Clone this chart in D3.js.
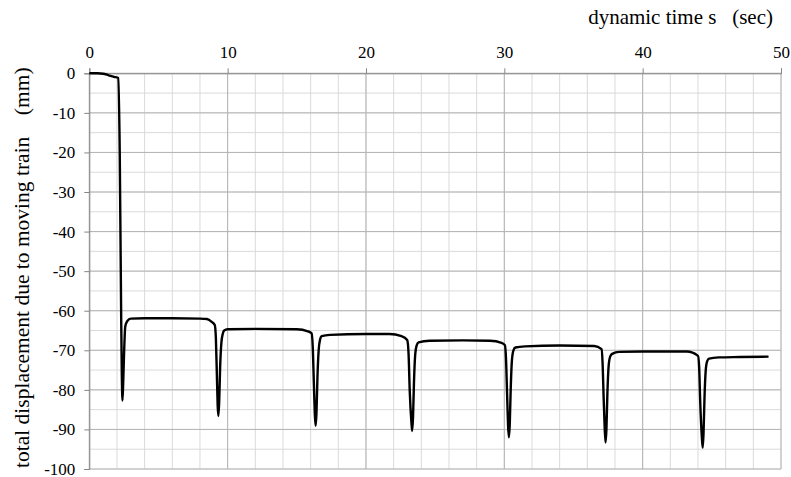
<!DOCTYPE html>
<html>
<head>
<meta charset="utf-8">
<script src="https://cdn.jsdelivr.net/npm/d3@7"></script>
<style>
  body { margin: 0; background: #fff; }
  svg { display: block; }
  svg text { font-family: "Liberation Serif", "Times New Roman", Tinos, "DejaVu Serif", serif; fill: #000; }
</style>
</head>
<body>
<div id="chart"></div>
<script>
// Data: time (sec) and total displacement (mm)
var time = [0, 0.6, 1.0, 1.4, 1.8, 2.1,
    2.2, 2.3, 2.35, 2.40, 2.46, 2.52, 2.6, 2.75, 3.0, 4, 6, 8, 8.5, 8.85, 9.07,
    9.15, 9.22, 9.28, 9.33, 9.39, 9.46, 9.55, 9.65, 9.75, 10.0, 12, 15.0, 15.8, 16.07,
    16.15, 16.23, 16.30, 16.36, 16.42, 16.49, 16.58, 16.68, 16.8, 17.4, 20, 21.7, 22.57, 22.98,
    23.08, 23.16, 23.28, 23.34, 23.40, 23.47, 23.56, 23.66, 23.8, 24.6, 27, 28.96, 29.8, 30.04,
    30.12, 30.20, 30.27, 30.33, 30.39, 30.46, 30.55, 30.66, 30.8, 31.5, 34, 36.5, 37.03,
    37.10, 37.18, 37.26, 37.32, 37.38, 37.45, 37.54, 37.65, 37.8, 38.3, 40, 43.2, 44.0,
    44.08, 44.16, 44.28, 44.34, 44.40, 44.47, 44.56, 44.66, 44.8, 45.5, 47, 49.1];
var disp = [0, 0, -0.1, -0.5, -0.9, -1.2,
    -20, -60, -76, -82.7, -77, -70, -64, -62.6, -62.0, -61.9, -61.9, -62.0, -62.1, -62.8, -63.6,
    -67, -76, -84, -86.6, -83, -74, -68, -65.8, -65.0, -64.7, -64.6, -64.7, -65.2, -65.7,
    -69, -78, -86, -89.1, -86, -77, -70, -67.3, -66.4, -66.1, -65.9, -65.9, -66.4, -67.4,
    -71, -80, -88, -90.4, -87, -78, -71, -68.8, -68.0, -67.6, -67.5, -67.6, -68.1, -68.7,
    -72, -81, -89, -92.0, -89, -80, -72.5, -70.0, -69.3, -69.0, -68.8, -68.9, -69.7,
    -73, -82, -90, -93.3, -90, -81, -74, -71.6, -70.9, -70.4, -70.3, -70.3, -71.4,
    -74, -83, -92, -94.6, -91, -82, -75, -72.8, -72.1, -71.8, -71.7, -71.6];

var xTicks = [0, 10, 20, 30, 40, 50];
var yTicks = [0, -10, -20, -30, -40, -50, -60, -70, -80, -90, -100];
var xMinor = d3.range(0, 51, 2);
var yMinor = d3.range(0, -101, -5);

var data = time.map(function (t, i) { return { time: t, disp: disp[i] }; });

// Setting up the margins and the graph area
var margin = { top: 73.3, right: 10, bottom: 8, left: 89.3 },
    width = 791 - margin.left - margin.right,
    height = 477 - margin.top - margin.bottom;

var svg = d3.select('#chart').append('svg')
    .attr('width', 791)
    .attr('height', 477)
    .append('g')
    .attr('transform', 'translate(' + margin.left + ',' + margin.top + ')');

var x = d3.scaleLinear().domain([0, 50]).range([0, width]);
var y = d3.scaleLinear().domain([0, -100]).range([0, height]);

// Minor grid
svg.append('g').selectAll('line.vminor')
    .data(xMinor).enter().append('line')
    .attr('x1', function (d) { return x(d); }).attr('x2', function (d) { return x(d); })
    .attr('y1', 0).attr('y2', height)
    .attr('stroke', '#dadada').attr('stroke-width', 1);
svg.append('g').selectAll('line.hminor')
    .data(yMinor).enter().append('line')
    .attr('x1', 0).attr('x2', width)
    .attr('y1', function (d) { return y(d); }).attr('y2', function (d) { return y(d); })
    .attr('stroke', '#dadada').attr('stroke-width', 1);

// Major grid
svg.append('g').selectAll('line.vmajor')
    .data(xTicks).enter().append('line')
    .attr('x1', function (d) { return x(d); }).attr('x2', function (d) { return x(d); })
    .attr('y1', 0).attr('y2', height)
    .attr('stroke', '#b4b4b4').attr('stroke-width', 1);
svg.append('g').selectAll('line.hmajor')
    .data(yTicks).enter().append('line')
    .attr('x1', 0).attr('x2', width)
    .attr('y1', function (d) { return y(d); }).attr('y2', function (d) { return y(d); })
    .attr('stroke', '#b4b4b4').attr('stroke-width', 1);

// Axes
var fmt = function (d) { return String(d); };
var xAxis = svg.append('g')
    .call(d3.axisTop(x).tickValues(xTicks).tickSize(5).tickPadding(10).tickFormat(fmt));
var yAxis = svg.append('g')
    .call(d3.axisLeft(y).tickValues(yTicks).tickSize(5).tickPadding(9).tickFormat(fmt));
[xAxis, yAxis].forEach(function (a) {
    a.attr('font-family', null).attr('font-size', null);
    a.select('.domain').attr('stroke', '#868686');
    a.selectAll('.tick line').attr('stroke', '#868686');
    a.selectAll('.tick text').style('font-size', '17px');
});

// X axis label
svg.append('text')
    .attr('x', 773 - margin.left)
    .attr('y', 24 - margin.top)
    .style('text-anchor', 'end')
    .style('font-size', '21px')
    .style('white-space', 'pre')
    .text('dynamic time s   (sec)');

// Y axis label
svg.append('text')
    .attr('transform', 'rotate(-90)')
    .attr('x', -(267.7 - margin.top))
    .attr('y', 29 - margin.left)
    .style('text-anchor', 'middle')
    .style('font-size', '21.5px')
    .style('white-space', 'pre')
    .text('total displacement due to moving train    (mm)');

// The line
var valueline = d3.line()
    .x(function (d) { return x(d.time); })
    .y(function (d) { return y(d.disp); })
    .curve(d3.curveMonotoneX);

svg.append('path')
    .datum(data)
    .attr('d', valueline)
    .attr('fill', 'none')
    .attr('stroke', '#000')
    .attr('stroke-width', 2.4)
    .attr('stroke-linejoin', 'round');
</script>
</body>
</html>
